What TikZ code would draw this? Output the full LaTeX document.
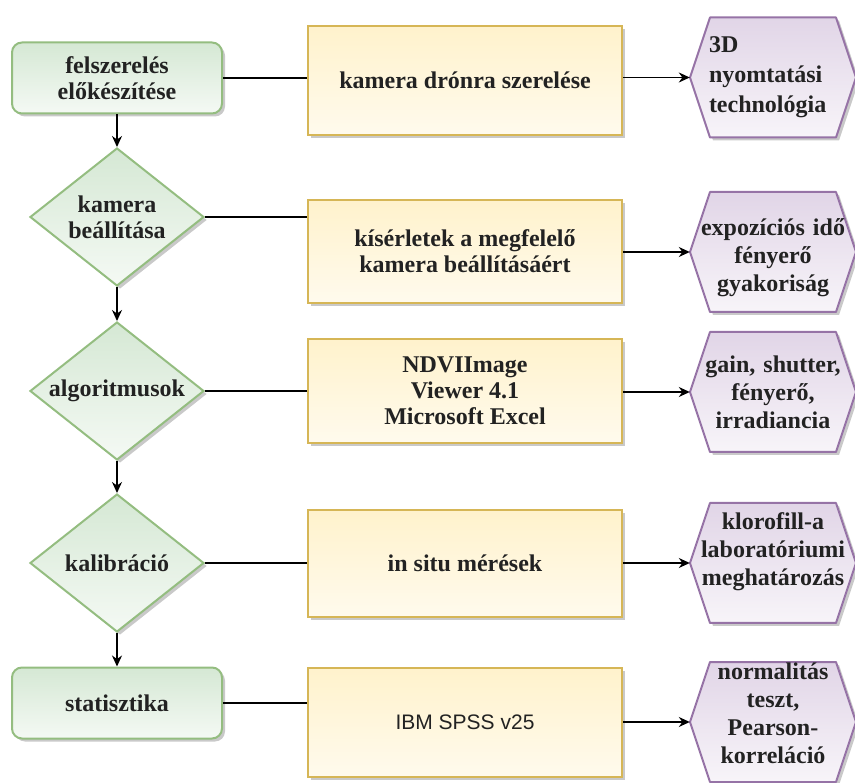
\documentclass[tikz,border=0pt]{standalone}
\usepackage{fontspec}
\setmainfont{Liberation Serif}
\newfontfamily\sansf{Liberation Sans}
\usetikzlibrary{shapes.geometric,shadows,arrows.meta,backgrounds}

\definecolor{gfill}{HTML}{D5E8D4}
\definecolor{gline}{HTML}{94BD80}
\definecolor{yfill}{HTML}{FFF2CC}
\definecolor{yline}{HTML}{D6B656}
\definecolor{pfill}{HTML}{E1D5E7}
\definecolor{pline}{HTML}{9673A6}
\definecolor{txt}{HTML}{222222}

\begin{document}
\begin{tikzpicture}[x=1pt,y=-1pt,
  every node/.style={font=\fontsize{24}{26}\selectfont\bfseries, text=txt},
  shadowed/.style={drop shadow={shadow xshift=3pt,shadow yshift=-3pt,opacity=0.3,fill=black!70}},
  startbox/.style={rectangle, rounded corners=10pt, minimum width=210pt, minimum height=71pt,
    draw=gline, line width=2pt, top color=gfill, bottom color=white!75!gfill,
    align=center, shadowed, inner sep=0pt},
  decbox/.style={diamond, aspect=1.26, minimum width=174pt, minimum height=138pt, inner sep=0pt,
    draw=gline, line width=2pt, top color=gfill, bottom color=white!75!gfill,
    align=center, shadowed},
  toolbox/.style={rectangle, minimum width=314pt, minimum height=105pt, draw=yline, line width=2pt,
    top color=yfill, bottom color=white!65!yfill, align=center, shadowed, inner sep=0pt},
  hexbox/.style={rectangle, minimum width=166pt, minimum height=120pt, text width=160pt,
    inner sep=0pt, align=center, font=\fontsize{24}{28}\selectfont\bfseries},
  hexshape/.style={draw=pline, line width=2pt, top color=pfill, bottom color=white!75!pfill,
    shadowed, line join=round},
  conn/.style={line width=1.3pt, black},
  arr/.style={conn, -{Stealth[length=11pt, width=10pt]}}
]
\useasboundingbox (0,0) rectangle (855,783);
\clip (0,0) rectangle (855,783);

% left column
\node[startbox] (s1) at (117,78) {felszerelés\\előkészítése};
\node[decbox] (d1) at (117,217) {kamera\\beállítása};
\node[decbox] (d2) at (117,391) {algoritmusok};
\node[decbox] (d3) at (117,563) {kalibráció};
\node[startbox] (s2) at (117,703) {statisztika};

% middle column
\node[toolbox, minimum height=109pt] (b1) at (465,80.5) {kamera drónra szerelése};
\node[toolbox, minimum height=103pt] (b2) at (465,251.5) {kísérletek a megfelelő\\kamera beállításáért};
\node[toolbox, minimum height=104pt] (b3) at (465,391) {NDVIImage\\Viewer 4.1\\Microsoft Excel};
\node[toolbox, minimum height=107pt] (b4) at (465,563.5) {in situ mérések};
\node[toolbox, minimum height=109pt, font=\sansf\fontsize{21}{24}\selectfont] (b5) at (465,722.5) {IBM SPSS v25};

% right column
\node[hexbox, text width=128pt, align=left, font=\fontsize{24}{30}\selectfont\bfseries] (h1) at (773,77.5) {3D\\nyomtatási\\technológia};
\node[hexbox] (h2) at (773,252) {\mbox{}\\expozíciós idő\\fényerő\\gyakoriság};
\node[hexbox] (h3) at (773,392) {gain, shutter,\\fényerő,\\irradiancia};
\node[hexbox] (h4) at (773,563) {klorofill-a\\laboratóriumi\\meghatározás\\\mbox{}};
\node[hexbox] (h5) at (773,722) {normalitás\\teszt,\\Pearson-\\korreláció\\[-10pt]\mbox{}};

\begin{scope}[on background layer]
  \foreach \h in {h1,h2,h3,h4,h5}{
    \path[hexshape, shift={(\h.center)}] (-83,0) -- (-63,-60) -- (63,-60) -- (83,0) -- (63,60) -- (-63,60) -- cycle;
  }
\end{scope}

% vertical flow
\draw[arr] (s1.south) -- (d1.north);
\draw[arr] (d1.south) -- (d2.north);
\draw[arr] (d2.south) -- (d3.north);
\draw[arr] (d3.south) -- (s2.north);

% left to middle
\draw[conn] (s1.east) -- (s1.east -| b1.west);
\draw[conn] (d1.east) -- (d1.east -| b2.west);
\draw[conn] (d2.east) -- (d2.east -| b3.west);
\draw[conn] (d3.east) -- (d3.east -| b4.west);
\draw[conn] (s2.east) -- (s2.east -| b5.west);

% middle to right
\draw[arr] (b1.east |- h1.west) -- (h1.west);
\draw[arr] (b2.east |- h2.west) -- (h2.west);
\draw[arr] (b3.east |- h3.west) -- (h3.west);
\draw[arr] (b4.east |- h4.west) -- (h4.west);
\draw[arr] (b5.east |- h5.west) -- (h5.west);
\end{tikzpicture}
\end{document}
